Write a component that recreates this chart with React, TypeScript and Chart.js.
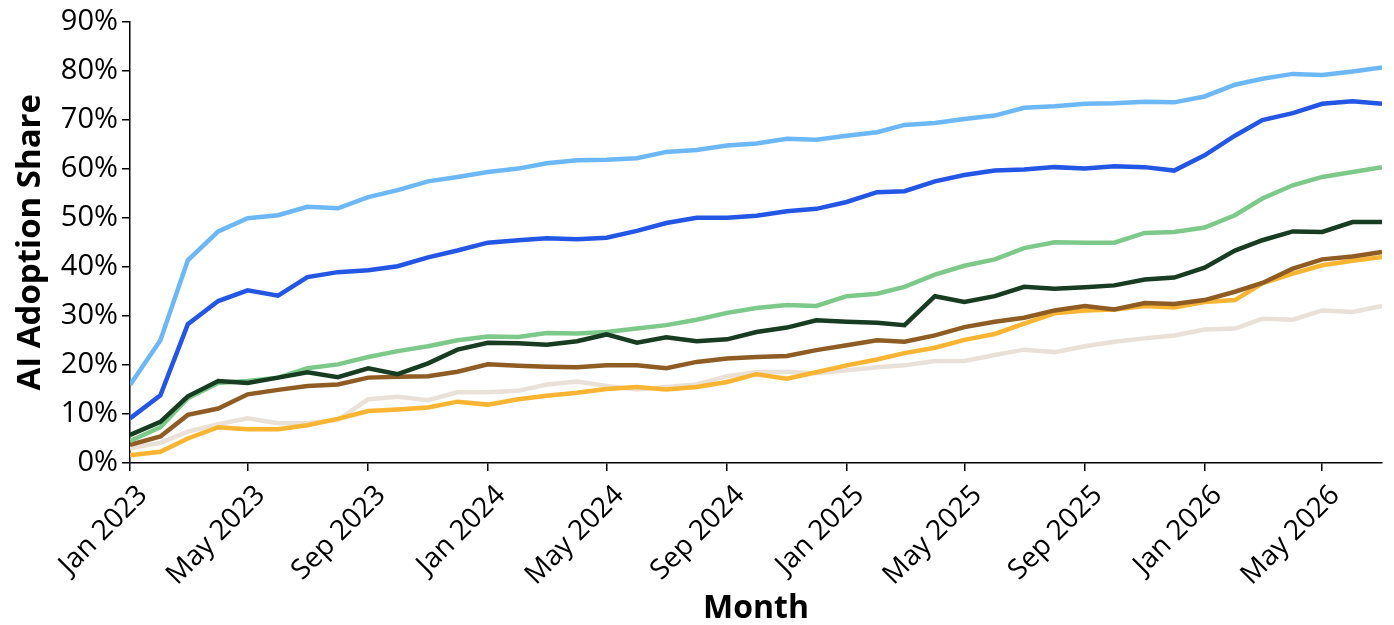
import { useEffect, useRef } from "react";
import { Chart, registerables } from "chart.js";

Chart.register(...registerables);

const months = [
  "2023-01", "2023-02", "2023-03", "2023-04", "2023-05", "2023-06", "2023-07", "2023-08", "2023-09", "2023-10", "2023-11", "2023-12",
  "2024-01", "2024-02", "2024-03", "2024-04", "2024-05", "2024-06", "2024-07", "2024-08", "2024-09", "2024-10", "2024-11", "2024-12",
  "2025-01", "2025-02", "2025-03", "2025-04", "2025-05", "2025-06", "2025-07", "2025-08", "2025-09", "2025-10", "2025-11", "2025-12",
  "2026-01", "2026-02", "2026-03", "2026-04", "2026-05", "2026-06", "2026-07",
];

const tickMonths = ["2023-01", "2023-05", "2023-09", "2024-01", "2024-05", "2024-09", "2025-01", "2025-05", "2025-09", "2026-01", "2026-05"];
const tickLabels = ["Jan 2023", "May 2023", "Sep 2023", "Jan 2024", "May 2024", "Sep 2024", "Jan 2025", "May 2025", "Sep 2025", "Jan 2026", "May 2026"];

const yTicks = [0, 10, 20, 30, 40, 50, 60, 70, 80, 90];

const lightBlueSeries = [15.9, 25.0, 41.3, 47.2, 49.9, 50.5, 52.2, 51.9, 54.2, 55.6, 57.4, 58.3, 59.3, 60.0, 61.1, 61.7, 61.8, 62.1, 63.4, 63.8, 64.7, 65.1, 66.1, 65.9, 66.7, 67.4, 68.9, 69.3, 70.1, 70.8, 72.4, 72.7, 73.2, 73.3, 73.6, 73.5, 74.7, 77.1, 78.3, 79.3, 79.1, 79.8, 80.6];
const blueSeries = [9.1, 13.8, 28.3, 33.0, 35.2, 34.1, 37.9, 38.9, 39.3, 40.1, 41.9, 43.3, 44.9, 45.4, 45.8, 45.6, 45.9, 47.3, 48.9, 50.0, 50.0, 50.4, 51.3, 51.8, 53.2, 55.2, 55.4, 57.4, 58.7, 59.6, 59.8, 60.3, 60.0, 60.5, 60.3, 59.6, 62.7, 66.7, 69.9, 71.3, 73.2, 73.7, 73.2];
const lightGreenSeries = [4.5, 7.3, 13.2, 16.3, 16.7, 17.4, 19.3, 20.1, 21.6, 22.8, 23.8, 25.0, 25.8, 25.7, 26.5, 26.4, 26.7, 27.4, 28.1, 29.2, 30.6, 31.6, 32.2, 32.0, 34.0, 34.5, 35.9, 38.4, 40.2, 41.5, 43.8, 45.0, 44.9, 44.9, 46.9, 47.1, 48.0, 50.5, 53.9, 56.6, 58.3, 59.3, 60.3];
const darkGreenSeries = [5.7, 8.4, 13.6, 16.7, 16.3, 17.4, 18.5, 17.5, 19.3, 18.1, 20.3, 23.1, 24.5, 24.4, 24.1, 24.8, 26.2, 24.5, 25.6, 24.8, 25.2, 26.7, 27.6, 29.1, 28.8, 28.6, 28.1, 34.0, 32.8, 34.0, 35.9, 35.5, 35.8, 36.2, 37.4, 37.8, 39.8, 43.3, 45.4, 47.2, 47.1, 49.1, 49.1];
const brownSeries = [3.7, 5.4, 9.8, 11.1, 14.0, 14.9, 15.7, 16.0, 17.4, 17.6, 17.7, 18.6, 20.1, 19.8, 19.6, 19.5, 19.9, 19.9, 19.3, 20.6, 21.3, 21.6, 21.8, 23.0, 24.0, 25.0, 24.7, 26.0, 27.7, 28.8, 29.6, 31.1, 32.0, 31.3, 32.6, 32.4, 33.2, 34.9, 36.7, 39.6, 41.5, 42.1, 43.0];
const yellowSeries = [1.6, 2.3, 5.0, 7.3, 6.9, 6.9, 7.7, 9.0, 10.6, 10.9, 11.3, 12.5, 11.9, 13.0, 13.7, 14.3, 15.1, 15.5, 15.0, 15.5, 16.5, 18.1, 17.2, 18.5, 19.9, 21.1, 22.4, 23.5, 25.1, 26.3, 28.4, 30.5, 31.1, 31.3, 32.0, 31.7, 32.8, 33.2, 36.6, 38.6, 40.3, 41.2, 42.0];
const beigeSeries = [3.0, 4.1, 6.4, 7.9, 9.1, 8.1, 8.1, 8.8, 13.0, 13.5, 12.8, 14.4, 14.4, 14.7, 16.0, 16.6, 15.7, 15.0, 15.5, 16.0, 17.7, 18.5, 18.6, 18.3, 18.9, 19.5, 19.9, 20.8, 20.8, 22.0, 23.1, 22.6, 23.8, 24.7, 25.4, 26.0, 27.2, 27.4, 29.4, 29.2, 31.1, 30.8, 32.0];

const FONT = "'Open Sans', 'DejaVu Sans', sans-serif";

function dayOf(m: string): number {
  const [y, mo] = m.split("-").map(Number);
  return (Date.UTC(y, mo - 1, 1) - Date.UTC(2023, 0, 1)) / 86400000;
}

export default function App() {
  const ref = useRef<HTMLCanvasElement | null>(null);

  useEffect(() => {
    const canvas = ref.current;
    if (!canvas) return;
    const xs = months.map(dayOf);
    const toPts = (vals: number[]) => vals.map((v, i) => ({ x: xs[i], y: v }));
    const labelMap: Record<number, string> = {};
    tickMonths.forEach((m, i) => {
      labelMap[dayOf(m)] = tickLabels[i];
    });

    const mk = (label: string, data: number[], color: string) => ({
      label,
      data: toPts(data),
      borderColor: color,
      backgroundColor: color,
      borderWidth: 4.5,
      pointRadius: 0,
      tension: 0,
      fill: false,
    });

    const chart = new Chart(canvas, {
      type: "line",
      data: {
        datasets: [
          mk("Dark green", darkGreenSeries, "#173c22"),
          mk("Light green", lightGreenSeries, "#7dc989"),
          mk("Brown", brownSeries, "#8f5c24"),
          mk("Yellow", yellowSeries, "#f9b431"),
          mk("Beige", beigeSeries, "#e9e1d8"),
          mk("Blue", blueSeries, "#2456e6"),
          mk("Light blue", lightBlueSeries, "#6cb8f6"),
        ],
      },
      options: {
        responsive: false,
        animation: false,
        layout: { padding: { top: 21, right: 12, bottom: 0, left: 0 } },
        plugins: { legend: { display: false }, tooltip: { enabled: false } },
        scales: {
          x: {
            type: "linear",
            min: xs[0],
            max: xs[xs.length - 1],
            afterBuildTicks: (s: any) => {
              s.ticks = tickMonths.map((m) => ({ value: dayOf(m) }));
            },
            afterFit: (s: any) => {
              s.height = 162;
            },
            ticks: {
              autoSkip: false,
              minRotation: 45,
              maxRotation: 45,
              padding: 8,
              labelOffset: 13,
              color: "#000",
              font: { family: FONT, size: 28 },
              callback: (v: any) => labelMap[v as number] ?? "",
            },
            grid: { display: true, drawOnChartArea: false, drawTicks: true, tickLength: 8, color: "#000", lineWidth: 1.5 },
            border: { display: true, color: "#000", width: 1.5 },
            title: {
              display: true,
              text: "Month",
              color: "#000",
              font: { family: FONT, size: 32, weight: "bold" },
              padding: { top: 0, bottom: -3 },
            },
          },
          y: {
            type: "linear",
            min: 0,
            max: 90,
            afterBuildTicks: (s: any) => {
              s.ticks = yTicks.map((v) => ({ value: v }));
            },
            afterFit: (s: any) => {
              s.width = 130;
            },
            ticks: {
              padding: 4,
              color: "#000",
              font: { family: FONT, size: 29 },
              callback: (v: any) => `${v}%`,
            },
            grid: { display: true, drawOnChartArea: false, drawTicks: true, tickLength: 8, color: "#000", lineWidth: 1.5 },
            border: { display: true, color: "#000", width: 1.5 },
            title: {
              display: true,
              text: "AI Adoption Share",
              color: "#000",
              font: { family: FONT, size: 33, weight: "bold" },
              padding: { top: 11, bottom: 0 },
            },
          },
        },
      },
    } as any);
    return () => chart.destroy();
  }, []);

  return (
    <div style={{ position: "absolute", left: 0, top: 0, width: 1394, height: 625, background: "#fff" }}>
      <canvas ref={ref} width={1394} height={625} style={{ display: "block" }} />
    </div>
  );
}
